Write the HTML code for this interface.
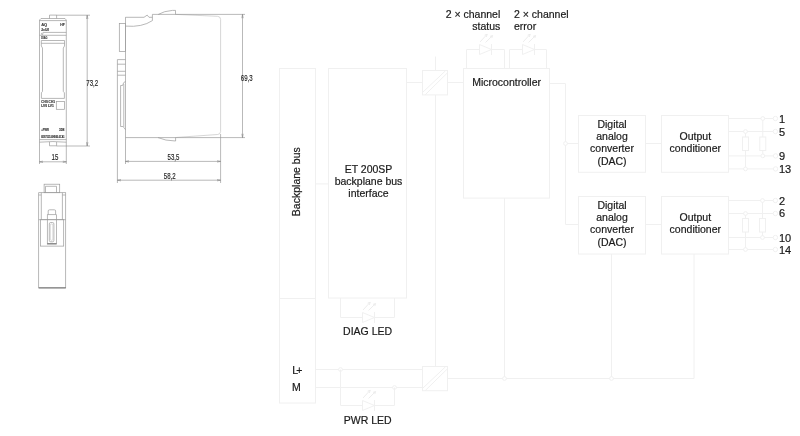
<!DOCTYPE html>
<html><head><meta charset="utf-8">
<style>
html,body{margin:0;padding:0;background:#fff;}
body{width:800px;height:436px;overflow:hidden;}
svg{display:block;will-change:transform;}
text{font-family:"Liberation Sans",sans-serif;fill:#1a1a1a;}
.t text{stroke:#1a1a1a;stroke-width:0.2;}
.t{font-size:10.5px;}
.b{fill:none;stroke:#f0f0f0;stroke-width:1;}
.m{fill:none;stroke:#9a9a9a;stroke-width:0.7;}
.d{fill:none;stroke:#8a8a8a;stroke-width:0.6;}
.dim{font-size:8.6px;fill:#222;stroke:#222;stroke-width:0.15;}
</style></head>
<body>
<svg width="800" height="436" viewBox="0 0 800 436">
<!-- ============ BLOCK DIAGRAM ============ -->
<g class="b">
  <!-- backplane bus box -->
  <rect x="279.5" y="68.5" width="36" height="334.5"/>
  <line x1="279.5" y1="298.5" x2="315.5" y2="298.5"/>
  <!-- ET200SP -->
  <rect x="328.5" y="68.5" width="78" height="229.5"/>
  <line x1="315.5" y1="183.9" x2="328.5" y2="183.9"/>
  <!-- converter 1 -->
  <rect x="422.5" y="70.5" width="25" height="24.4"/>
  <line x1="422.7" y1="92.3" x2="445.5" y2="70.8"/>
  <line x1="425.2" y1="94.8" x2="447.5" y2="72.8"/>
  <line x1="435.5" y1="56.5" x2="435.5" y2="70.5"/>
  <line x1="435.5" y1="94.9" x2="435.5" y2="366.5"/>
  <line x1="406.5" y1="82.5" x2="422.5" y2="82.5"/>
  <line x1="447.5" y1="82.5" x2="463.5" y2="82.5"/>
  <!-- converter 2 -->
  <rect x="422.5" y="366.5" width="25" height="24.2"/>
  <line x1="422.7" y1="388.3" x2="445.5" y2="366.8"/>
  <line x1="425.2" y1="390.6" x2="447.5" y2="368.8"/>
  <line x1="315.5" y1="369.5" x2="422.5" y2="369.5"/>
  <line x1="315.5" y1="387.5" x2="422.5" y2="387.5"/>
  <polyline points="447.5,378.5 694,378.5 694,254"/>
  <line x1="504.5" y1="198.1" x2="504.5" y2="378.5"/>
  <line x1="611.5" y1="254" x2="611.5" y2="378.5"/>
  <!-- micro -->
  <rect x="463.5" y="68.5" width="86" height="129.6"/>
  <polyline points="466.5,68.5 466.5,49.5 504.5,49.5 504.5,68.5"/>
  <polyline points="509.5,68.5 509.5,49.5 546.5,49.5 546.5,68.5"/>
  <polyline points="549.5,83.5 565.5,83.5 565.5,224.5 578.5,224.5"/>
  <line x1="565.5" y1="143.5" x2="578.5" y2="143.5"/>
  <!-- DAC / Output -->
  <rect x="578.5" y="115.5" width="67" height="56.8"/>
  <rect x="578.5" y="196.5" width="67" height="57.5"/>
  <rect x="661.5" y="115.5" width="67" height="56.8"/>
  <rect x="661.5" y="196.5" width="67" height="57.5"/>
  <line x1="645.5" y1="143.5" x2="661.5" y2="143.5"/>
  <line x1="645.5" y1="224.5" x2="661.5" y2="224.5"/>
  <!-- terminals block 1 -->
  <line x1="728.5" y1="118.5" x2="773.2" y2="118.5"/>
  <line x1="728.5" y1="131.5" x2="773.2" y2="131.5"/>
  <line x1="728.5" y1="155.9" x2="773.2" y2="155.9"/>
  <line x1="728.5" y1="168.9" x2="773.2" y2="168.9"/>
  <line x1="745.5" y1="131.5" x2="745.5" y2="168.9"/>
  <line x1="762.8" y1="118.5" x2="762.8" y2="155.9"/>
  <rect x="742.5" y="137" width="6" height="13.5" fill="#fff"/>
  <rect x="759.8" y="137" width="6" height="13.5" fill="#fff"/>
  <circle cx="775.4" cy="118.5" r="2.2"/>
  <circle cx="775.4" cy="131.5" r="2.2"/>
  <circle cx="775.6" cy="155.9" r="2.2"/>
  <circle cx="775.6" cy="168.9" r="2.2"/>
  <!-- terminals block 2 -->
  <line x1="728.5" y1="200.5" x2="773.2" y2="200.5"/>
  <line x1="728.5" y1="213.5" x2="773.2" y2="213.5"/>
  <line x1="728.5" y1="237.5" x2="773.2" y2="237.5"/>
  <line x1="728.5" y1="249.5" x2="773.2" y2="249.5"/>
  <line x1="745.5" y1="213.5" x2="745.5" y2="249.5"/>
  <line x1="762.5" y1="200.5" x2="762.5" y2="237.5"/>
  <rect x="742.5" y="218.5" width="6" height="13.5" fill="#fff"/>
  <rect x="759.5" y="218.5" width="6" height="13.5" fill="#fff"/>
  <circle cx="775.4" cy="200.5" r="2.2"/>
  <circle cx="775.4" cy="213.5" r="2.2"/>
  <circle cx="775.4" cy="237.5" r="2.2"/>
  <circle cx="775.4" cy="249.5" r="2.2"/>
  <!-- junction dots -->
  <g>
    <circle cx="565.5" cy="143.5" r="1.9" fill="#fff"/>
    <circle cx="745.5" cy="131.5" r="1.9" fill="#fff"/>
    <circle cx="745.5" cy="168.9" r="1.9" fill="#fff"/>
    <circle cx="762.8" cy="118.5" r="1.9" fill="#fff"/>
    <circle cx="762.8" cy="155.9" r="1.9" fill="#fff"/>
    <circle cx="745.5" cy="213.5" r="1.9" fill="#fff"/>
    <circle cx="745.5" cy="249.5" r="1.9" fill="#fff"/>
    <circle cx="762.5" cy="200.5" r="1.9" fill="#fff"/>
    <circle cx="762.5" cy="237.5" r="1.9" fill="#fff"/>
    <circle cx="504.5" cy="378.5" r="1.9" fill="#fff"/>
    <circle cx="611.5" cy="378.5" r="1.9" fill="#fff"/>
    <circle cx="340.5" cy="369.5" r="1.9" fill="#fff"/>
    <circle cx="394.5" cy="387.5" r="1.9" fill="#fff"/>
  </g>
  <!-- DIAG LED -->
  <polyline points="340.5,298 340.5,317.5 394.5,317.5 394.5,298"/>
  <!-- PWR LED -->
  <polyline points="340.5,369.5 340.5,405.5 394.5,405.5 394.5,387.5"/>
</g>
<!-- LED symbols -->
<defs>
  <g id="led">
    <path d="M0,-5 L12,0 L0,5 Z" fill="#fff" stroke="#f0f0f0" stroke-width="1"/>
    <line x1="12" y1="-5.5" x2="12" y2="5.5" stroke="#f0f0f0" stroke-width="1"/>
    <path d="M0.6,-7.6 L7.7,-15.3 M5.1,-14.3 L7.7,-15.3 L6.9,-12.6 M6.1,-7 L13.1,-14 M10.5,-13.1 L13.1,-14 L12.3,-11.4" fill="none" stroke="#ececec" stroke-width="1"/>
  </g>
</defs>
<use href="#led" x="479.5" y="49.5"/>
<use href="#led" x="522.5" y="49.5"/>
<use href="#led" x="362.5" y="317.5"/>
<use href="#led" x="362.5" y="405.5"/>

<!-- texts -->
<g class="t">
  <text x="500.3" y="17.5" text-anchor="end">2 × channel</text>
  <text x="500.3" y="29.8" text-anchor="end">status</text>
  <text x="514" y="17.5">2 × channel</text>
  <text x="514" y="29.8">error</text>
  <text x="506.6" y="85.8" text-anchor="middle">Microcontroller</text>
  <text x="368.5" y="172.7" text-anchor="middle">ET 200SP</text>
  <text x="368.5" y="184.6" text-anchor="middle">backplane bus</text>
  <text x="368.5" y="196.8" text-anchor="middle">interface</text>
  <text transform="translate(300,181.7) rotate(-90)" text-anchor="middle">Backplane bus</text>
  <text x="612" y="127.5" text-anchor="middle">Digital</text>
  <text x="612" y="139.8" text-anchor="middle">analog</text>
  <text x="612" y="152.3" text-anchor="middle">converter</text>
  <text x="612" y="164.7" text-anchor="middle">(DAC)</text>
  <text x="612" y="208.5" text-anchor="middle">Digital</text>
  <text x="612" y="220.8" text-anchor="middle">analog</text>
  <text x="612" y="233.3" text-anchor="middle">converter</text>
  <text x="612" y="245.7" text-anchor="middle">(DAC)</text>
  <text x="695.3" y="139.9" text-anchor="middle">Output</text>
  <text x="695.3" y="152" text-anchor="middle">conditioner</text>
  <text x="695.3" y="221.4" text-anchor="middle">Output</text>
  <text x="695.3" y="233.3" text-anchor="middle">conditioner</text>
  <text x="367.6" y="334.5" text-anchor="middle">DIAG LED</text>
  <text x="367.7" y="423.5" text-anchor="middle">PWR LED</text>
  <text x="292.3" y="373.9" textLength="10" lengthAdjust="spacing">L+</text>
  <text x="292" y="391.2">M</text>
  <text style="font-size:11px" x="778.9" y="122.7">1</text>
  <text style="font-size:11px" x="778.9" y="135.5">5</text>
  <text style="font-size:11px" x="778.9" y="160.2">9</text>
  <text style="font-size:11px" x="778.9" y="172.8">13</text>
  <text style="font-size:11px" x="778.9" y="204.6">2</text>
  <text style="font-size:11px" x="778.9" y="217.3">6</text>
  <text style="font-size:11px" x="778.9" y="241.8">10</text>
  <text style="font-size:11px" x="778.9" y="254">14</text>
</g>

<!-- ============ MECHANICAL DRAWINGS ============ -->
<!-- front view -->
<g class="m">
  <path d="M39.5,146 L39.5,20 L41,18.5 L65,18.5 L66.3,20 L66.3,146"/>
  <line x1="39.5" y1="20.6" x2="66.3" y2="20.6"/>
  <path d="M49.5,18.5 L49.5,15.1 L56.6,15.1 L56.6,18.5"/>
  <line x1="43" y1="32.4" x2="66.3" y2="32.4"/>
  <line x1="39.5" y1="35.3" x2="66.3" y2="35.3"/>
  <line x1="41.3" y1="40.5" x2="64.5" y2="40.5"/>
  <line x1="41.3" y1="43.3" x2="64.5" y2="43.3"/>
  <path d="M41.3,40.5 L41.3,46 L42.5,48 L42.5,91.4 L41.4,92.8 L41.4,98.4 L64.4,98.4 L64.4,92.8 L63.3,91.4 L63.3,48 L64.5,46 L64.5,40.5"/>
  <rect x="56.3" y="101.4" width="8.3" height="7.9"/>
  <line x1="39.5" y1="139.6" x2="66.3" y2="139.6"/>
  <path d="M39.5,142.2 Q53,140.9 66.3,142.2"/>
  <path d="M49.5,142 L49.5,145.8 L56.6,145.8 L56.6,142"/>
  <circle cx="42.2" cy="33.8" r="0.8"/>
</g>
<g style="font-weight:bold;fill:#333;stroke:#333;stroke-width:0.12">
  <text x="41.2" y="26" style="font-size:4px;fill:#333">AQ</text>
  <text x="60.3" y="25.7" style="font-size:3.4px;fill:#333">HF</text>
  <text x="41.2" y="30.9" style="font-size:4px;fill:#333" textLength="8" lengthAdjust="spacingAndGlyphs">2xU/I</text>
  <text x="41.2" y="38.8" style="font-size:3.8px;fill:#333" textLength="6.2" lengthAdjust="spacingAndGlyphs">DIAG</text>
  <text x="41.3" y="103.4" style="font-size:3px;fill:#333" textLength="13.7" lengthAdjust="spacingAndGlyphs">CH0 CH1</text>
  <text x="41.3" y="107.4" style="font-size:3px;fill:#333" textLength="12.5" lengthAdjust="spacingAndGlyphs">LV0 LV1</text>
  <text x="41.2" y="131.3" style="font-size:3px;fill:#333" textLength="7.8" lengthAdjust="spacingAndGlyphs">□PWR</text>
  <text x="59" y="131.3" style="font-size:3px;fill:#333" textLength="5.5" lengthAdjust="spacingAndGlyphs">3D8</text>
  <text x="41.2" y="137.8" style="font-size:3.2px;fill:#222" textLength="23.4" lengthAdjust="spacingAndGlyphs">6ES7135-6HB00-0CA1</text>
</g>
<!-- front view dims -->
<g class="d">
  <line x1="56.5" y1="15.2" x2="90" y2="15.2"/>
  <line x1="56.5" y1="146" x2="90" y2="146"/>
  <line x1="87.2" y1="15.2" x2="87.2" y2="146"/>
  <path d="M86.5,19 L87.2,15.2 L87.9,19 M86.5,142.2 L87.2,146 L87.9,142.2"/>
  <line x1="39.5" y1="146" x2="39.5" y2="164"/>
  <line x1="66.3" y1="146" x2="66.3" y2="164"/>
  <line x1="39.5" y1="161.8" x2="66.3" y2="161.8"/>
  <path d="M43,161.1 L39.5,161.8 L43,162.5 M62.8,161.1 L66.3,161.8 L62.8,162.5"/>
</g>
<text class="dim" transform="translate(86.3,85.6) scale(0.71,1)">73,2</text>
<text class="dim" transform="translate(51.5,160.4) scale(0.71,1)">15</text>

<!-- side view -->
<g class="m">
  <path d="M125.5,17.3 L144,17.3 L147.2,15.1 L149,17.3 L152.4,17.3 L152.4,14.4"/>
  <path d="M125.5,26.1 Q142,27.5 152.4,20.6 L152.4,17.2"/>
  <path d="M158.3,14.4 Q164,11 172.5,10.4 L175.5,10.4 L175.5,14.4"/>
  <path d="M175.6,14.4 L217.5,16.3 Q220.6,16.5 220.6,19.5 L220.6,131.5 Q220.6,134.4 217.5,134.5 L175.6,137.5" style="stroke:#c4c4c4"/>
  <line x1="125.5" y1="17.2" x2="125.5" y2="164"/>
  <rect x="119.3" y="23.4" width="6.2" height="28.2"/>
  <path d="M117.4,59.6 L125.5,59.6 M117.4,64.2 L125.5,64.2 M117.4,71.3 L125.5,71.3 M117.4,75.2 L125.5,75.2"/>
  <line x1="117.4" y1="59.6" x2="117.4" y2="183"/>
  <path d="M120.6,126.5 L120.6,85.5 L122.5,85.5 L123.8,82.5 L125.5,81.5"/>
  <path d="M123.8,84 L123.8,127.5 L125.5,129.7"/>
  <path d="M120.6,126.5 L123.2,126.5"/>
  <line x1="125.5" y1="137.6" x2="220.6" y2="137.6"/>
  <path d="M158,137.6 Q165,140.8 175.6,141 L175.6,137.6"/>
</g>
<g class="d">
  <line x1="152.4" y1="14.4" x2="245" y2="14.4"/>
  <line x1="220.6" y1="137.6" x2="245" y2="137.6"/>
  <line x1="242.5" y1="14.4" x2="242.5" y2="137.6"/>
  <path d="M241.8,18.2 L242.5,14.4 L243.2,18.2 M241.8,133.8 L242.5,137.6 L243.2,133.8"/>
  <line x1="220.6" y1="134" x2="220.6" y2="183"/>
  <line x1="125.5" y1="161.4" x2="220.6" y2="161.4"/>
  <path d="M129,160.7 L125.5,161.4 L129,162.1 M217,160.7 L220.6,161.4 L217,162.1"/>
  <line x1="117.4" y1="180.2" x2="220.6" y2="180.2"/>
  <path d="M121,179.5 L117.4,180.2 L121,180.9 M217,179.5 L220.6,180.2 L217,180.9"/>
</g>
<text class="dim" transform="translate(240.8,81) scale(0.71,1)">69,3</text>
<text class="dim" transform="translate(167.5,160.2) scale(0.71,1)">53,5</text>
<text class="dim" transform="translate(163.8,178.7) scale(0.71,1)">58,2</text>

<!-- bottom view -->
<g class="m">
  <rect x="44.1" y="184.2" width="15.6" height="8.5"/>
  <path d="M45.5,192.7 L45.5,186.3 L56.5,186.3 L56.5,192.7"/>
  <rect x="38.7" y="192.7" width="27" height="95.2"/>
  <line x1="41.3" y1="192.7" x2="41.3" y2="219.7"/>
  <line x1="62.4" y1="192.7" x2="62.4" y2="219.7"/>
  <line x1="38.7" y1="195" x2="41.3" y2="195"/>
  <line x1="62.4" y1="195" x2="65.7" y2="195"/>
  <line x1="38.7" y1="219.7" x2="65.7" y2="219.7"/>
  <rect x="40.6" y="219.7" width="23.1" height="26.4"/>
  <path d="M48.2,214.5 L48.2,211 Q48.2,209.8 49.5,209.8 L54.4,209.8 Q55.6,209.8 55.6,211 L55.6,214.5"/>
  <rect x="47.3" y="214.7" width="9.2" height="29.5"/>
  <rect x="49.3" y="222.5" width="4.6" height="19.3" rx="1.4"/>
  <rect x="50.3" y="224" width="2.6" height="16.3" rx="1" style="stroke:#c8c8c8"/>
  <line x1="47.3" y1="243.6" x2="56.5" y2="243.6" style="stroke:#777;stroke-width:0.9"/>
</g>
<line x1="38.7" y1="287.9" x2="65.7" y2="287.9" stroke="#555" stroke-width="0.8"/>
</svg>
</body></html>
